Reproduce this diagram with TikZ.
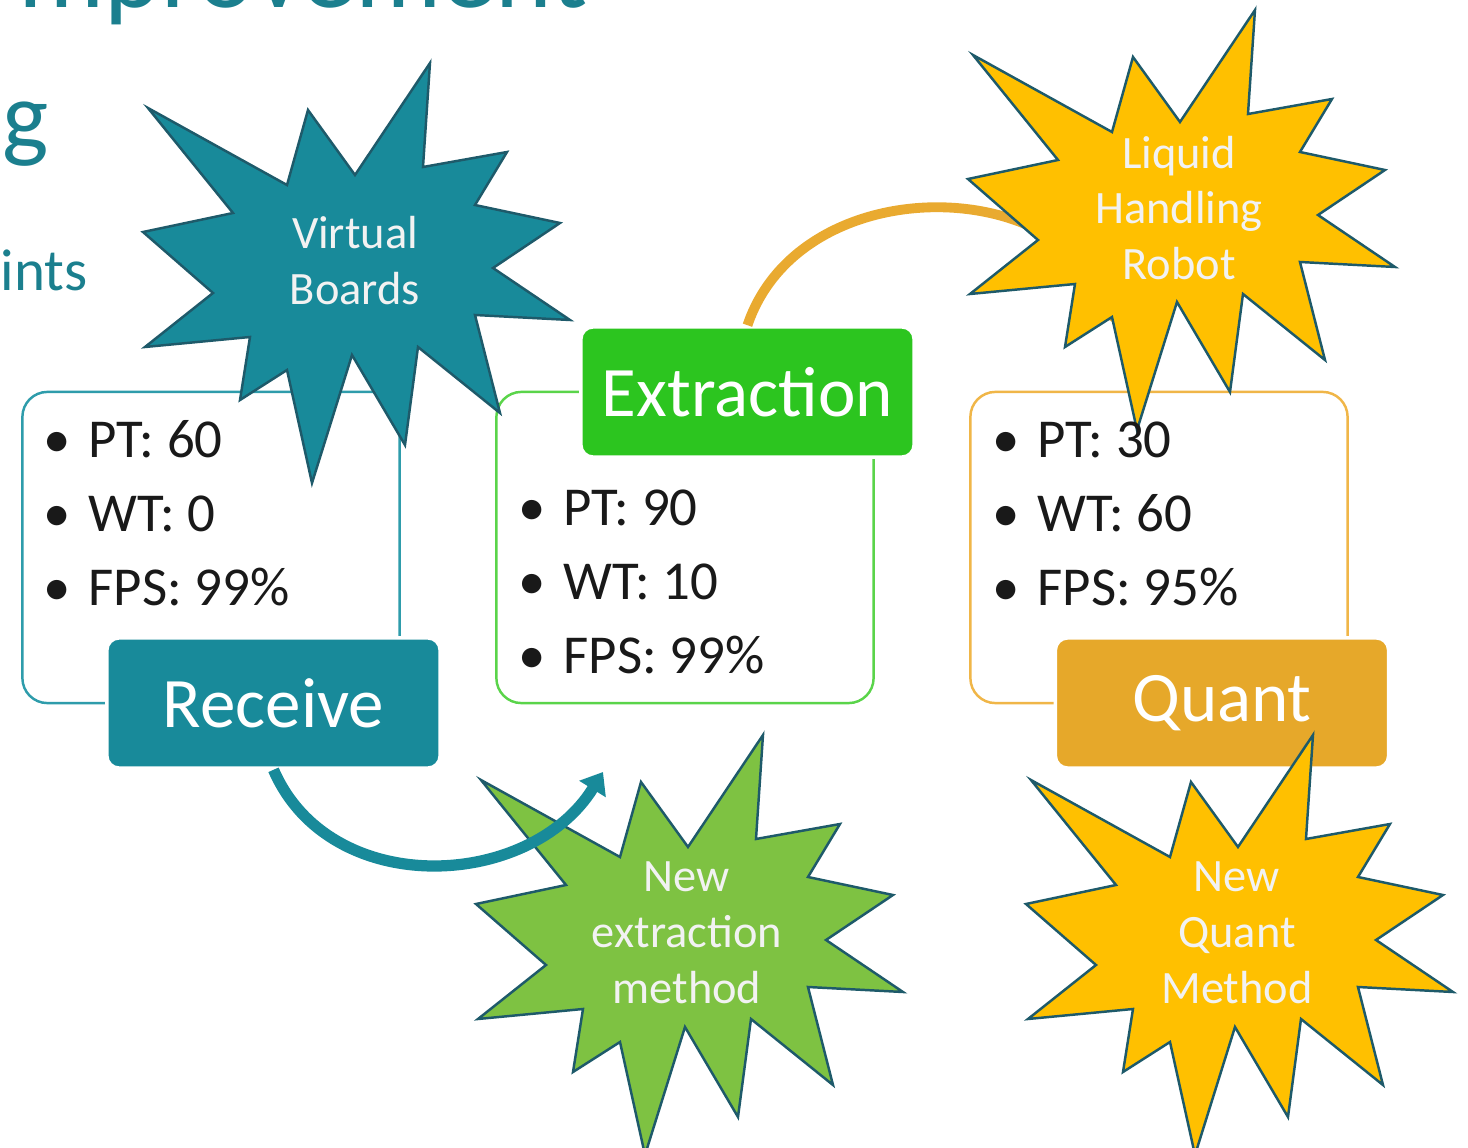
\documentclass[tikz,border=0pt]{standalone}
\usepackage{fontspec}
\setmainfont{Carlito}
\usetikzlibrary{arrows.meta}

\definecolor{slideteal}{HTML}{1B7F8E}
\definecolor{recvteal}{HTML}{188A9A}
\definecolor{recvline}{HTML}{2E9CAB}
\definecolor{extgreen}{HTML}{2CC51F}
\definecolor{extline}{HTML}{5AD44A}
\definecolor{quantgold}{HTML}{E6A82A}
\definecolor{quantline}{HTML}{F0B648}
\definecolor{burstgreen}{HTML}{7EC242}
\definecolor{burstgold}{HTML}{FFC000}
\definecolor{burstedge}{HTML}{1E5A6A}
\definecolor{arcgold}{HTML}{E9AA30}

\tikzset{
  infobox/.style={draw=#1, line width=0.7pt, fill=white, rounded corners=0.25cm,
    minimum width=3.77cm, minimum height=3.11cm},
  stagelabel/.style={fill=#1, draw=white, line width=1pt, rounded corners=0.12cm,
    minimum width=3.33cm, minimum height=1.3cm, text=white,
    font=\fontsize{20.2}{24}\selectfont},
  item/.style={anchor=base west, inner sep=0pt, text=black!90,
    font=\fontsize{15.6}{18}\selectfont},
  burst text/.style={align=center, text=white!95!black,
    font=\fontsize{13.2}{15.9}\selectfont},
  slide text/.style={inner sep=0pt, text=slideteal},
  flow arc/.style={draw=#1, line width=3.2pt,
    -{Triangle[length=0.2cm, width=0.3cm]}},
  pics/burst/.style={code={
    \filldraw[fill=#1, draw=burstedge, line width=0.7pt, line join=miter]
      (74,-210) -- (67,-106) -- (151,-121) -- (119,-68) -- (204,-50) -- (137,-5)
      -- (214,47) -- (119,42) -- (144,140) -- (62,74) -- (49,172) -- (-4,82)
      -- (-44,210) -- (-69,97) -- (-116,127) -- (-106,64) -- (-211,74) -- (-143,20)
      -- (-213,-41) -- (-123,-60) -- (-208,-165) -- (-69,-88) -- (-48,-163) -- (-1,-98)
      -- cycle;
  }}
}

\begin{document}
\begin{tikzpicture}[x=0.01cm, y=-0.01cm]

  % Page frame in pixel units.
  \useasboundingbox (0,0) rectangle (1468,1148);
  \clip (0,0) rectangle (1468,1148);

  % Left-over slide text.
  \node[slide text, font=\fontsize{30.7}{32}\selectfont, anchor=base east] (title) at (588,7) {mprovement};
  \node[slide text, font=\fontsize{27.9}{30}\selectfont, anchor=base west] (subg) at (2,149) {g};
  \node[slide text, font=\fontsize{16.8}{20}\selectfont, anchor=base west] (subints) at (0,290) {ints};

  % Stage boxes.
  \node[infobox=recvline] (recvbox) at (211,547.5) {};
  \node[infobox=extline] (extbox) at (685,547.5) {};
  \node[infobox=quantline] (quantbox) at (1159,547.5) {};

  % Stage labels.
  \node[stagelabel=recvteal] (recvlabel) at (273.5,703) {Receive};
  \node[stagelabel=extgreen] (extlabel) at (747.5,392) {Extraction};
  \node[stagelabel=quantgold] (quantlabel) at (1222,703) {Quant};

  % Burst below extraction.
  \pic (extstar) at (689,945) {burst=burstgreen};
  \node[burst text] (extidea) at (687,933) {New\\extraction\\method};

  % Flow arcs.
  \coordinate (recvTip) at (603,772);
  \coordinate (robotEnd) at (1117,325);
  \draw[flow arc=recvteal] (recvlabel.south) .. controls (330,900) and (530,890) .. (recvTip);
  \draw[flow arc=arcgold, line width=2.8pt] (extlabel.north) .. controls (800,170) and (1062,172) .. (robotEnd);

  % Improvement bursts.
  \pic (vbstar) at (356,273) {burst=recvteal};
  \node[burst text] (vboards) at (355,261) {Virtual\\Boards};

  \pic (robotstar) at (1181,220) {burst=burstgold};
  \node[burst text] (robot) at (1179,208) {Liquid\\Handling\\Robot};

  \pic (quantstar) at (1239,945) {burst=burstgold};
  \node[burst text] (quantidea) at (1237,933) {New\\Quant\\Method};

  % Bullet lines.
  \foreach \txt [count=\i] in {PT: 60, WT: 0, FPS: 99\%}
    \node[item] (recv\i) at (43,{457+74*(\i-1)}) {\makebox[0.45cm][l]{\textbullet}\txt};
  \foreach \txt [count=\i] in {PT: 90, WT: 10, FPS: 99\%}
    \node[item] (ext\i) at (518,{525+74*(\i-1)}) {\makebox[0.45cm][l]{\textbullet}\txt};
  \foreach \txt [count=\i] in {PT: 30, WT: 60, FPS: 95\%}
    \node[item] (quant\i) at (992,{457+74*(\i-1)}) {\makebox[0.45cm][l]{\textbullet}\txt};

\end{tikzpicture}
\end{document}
